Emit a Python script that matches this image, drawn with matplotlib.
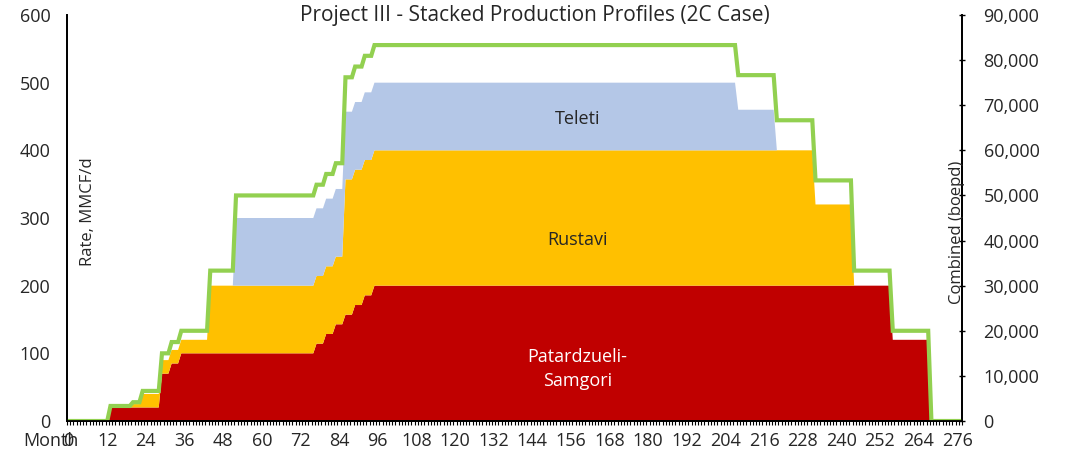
import numpy as np
import matplotlib
matplotlib.use("Agg")
import matplotlib.pyplot as plt
from matplotlib.ticker import FuncFormatter, MultipleLocator, FixedLocator

plt.rcParams['font.family'] = ['Open Sans', 'DejaVu Sans']

# ---- data (step profiles: month at which a new rate starts, and the rate) ----
n_months = 278
months = np.arange(n_months)

red_start = [0, 13, 29, 32, 35, 77, 80, 83, 86, 89, 92, 95, 256, 268]
red_rate = [0, 20, 70, 85, 100, 114.3, 128.6, 142.9, 157.1, 171.4, 185.7, 200, 120, 0]   # MMCF/d

yel_start = [0, 20, 23, 44, 86, 232, 244]
yel_rate = [0, 5, 20, 100, 200, 120, 0]

blu_start = [0, 52, 208, 220]
blu_rate = [0, 100, 60, 0]

comb_start = [0, 13, 20, 23, 29, 32, 35, 44, 52, 77, 80, 83, 86, 89, 92, 95, 208, 220, 232, 244, 256, 268]
comb_rate = [0, 3333, 4167, 6667, 15000, 17500, 20000, 33333, 50000, 52381, 54762, 57143,
             76190, 78571, 80952, 83333, 76667, 66667, 53333, 33333, 20000, 0]   # boepd

series_names = ["Patardzueli-\nSamgori", "Rustavi", "Teleti"]
colors = ["#C00000", "#FFC000", "#B4C7E7"]
green = "#92D050"


def steps(starts, rates):
    out = np.zeros(n_months)
    for s, r in zip(starts, rates):
        out[s:] = r
    return out


red = steps(red_start, red_rate)
yel = steps(yel_start, yel_rate)
blu = steps(blu_start, blu_rate)
comb = steps(comb_start, comb_rate)

W, H = 1071, 453
fig = plt.figure(figsize=(W / 100, H / 100), dpi=100)
L, R, T, B = 67, 962, 15, 421
ax = fig.add_axes([L / W, 1 - B / H, (R - L) / W, (B - T) / H])

ax.stackplot(months, red, yel, blu, colors=colors, linewidth=0)
ax.set_xlim(-0.5, n_months - 0.5)
ax.set_ylim(0, 600)
ax.yaxis.set_major_locator(MultipleLocator(100))

ax2 = ax.twinx()
ax2.plot(months, comb, color=green, lw=3, solid_joinstyle='miter')
ax2.set_ylim(0, 90000)
ax2.yaxis.set_major_locator(MultipleLocator(10000))
ax2.yaxis.set_major_formatter(FuncFormatter(lambda v, p: f"{int(v):,}"))

txtc = "#262626"
fs = 13
for a in (ax, ax2):
    a.spines['top'].set_visible(False)
    for s in a.spines.values():
        s.set_color('black')
        s.set_linewidth(1.3)

ax.xaxis.set_major_locator(FixedLocator(np.arange(0, n_months, 12)))
ax.xaxis.set_minor_locator(FixedLocator(np.arange(-0.5, n_months, 1)))
ax.tick_params(axis='x', which='major', length=0, pad=8, labelsize=fs, labelcolor=txtc)
ax.tick_params(axis='x', which='minor', length=3, width=0.8, direction='out', color='black')
ax.tick_params(axis='y', length=0, pad=12, labelsize=fs, labelcolor=txtc)
ax2.tick_params(axis='y', length=5, width=1, direction='inout', pad=13, labelsize=fs, labelcolor=txtc)

# in-plot axis titles and chart title
fig.text(88 / W, 1 - 212 / H, "Rate, MMCF/d", rotation=90, ha='center', va='center',
         fontsize=12, color=txtc)
fig.text(957 / W, 1 - 232 / H, "Combined (boepd)", rotation=90, ha='center', va='center',
         fontsize=12, color=txtc)
fig.text(23 / W, 1 - 441 / H, "Month", ha='left', va='center', fontsize=fs, color=txtc)
fig.text(535 / W, 1 - 16 / H, "Project III - Stacked Production Profiles (2C Case)",
         ha='center', va='center', fontsize=15, color=txtc)

# series labels
ax.text(158, 447, series_names[2], ha='center', va='center', fontsize=fs, color=txtc)
ax.text(158, 267, series_names[1], ha='center', va='center', fontsize=fs, color=txtc)
ax.text(158, 77, series_names[0], ha='center', va='center', fontsize=fs, color='white',
        linespacing=1.45)

fig.savefig("out.png", dpi=100)
